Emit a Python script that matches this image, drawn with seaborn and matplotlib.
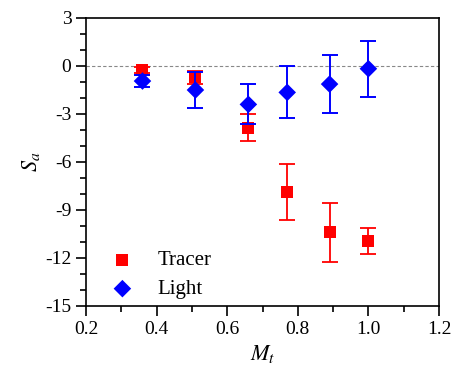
import matplotlib
matplotlib.use("Agg")
import matplotlib.pyplot as plt
import seaborn as sns
import pandas as pd
from matplotlib.ticker import MultipleLocator

mt = [0.36, 0.51, 0.66, 0.77, 0.89, 1.00]
tracer_sa = [-0.25, -0.7, -3.85, -7.9, -10.4, -10.95]
tracer_err = [0.2, 0.4, 0.85, 1.75, 1.85, 0.8]
light_sa = [-0.94, -1.5, -2.4, -1.65, -1.13, -0.17]
light_err = [0.35, 1.1, 1.25, 1.63, 1.8, 1.75]

sns.set_style("ticks")
plt.rcParams['font.family'] = ['Liberation Serif', 'DejaVu Serif']
plt.rcParams['mathtext.fontset'] = 'stix'
plt.rcParams['axes.unicode_minus'] = False
plt.rcParams['text.color'] = 'black'
plt.rcParams['axes.labelcolor'] = 'black'

fig = plt.figure(figsize=(4.54, 3.80), dpi=100)
ax = fig.add_axes([86/454, 1-306/380, (439-86)/454, (306-18)/380])

ax.axhline(0, color='#888888', lw=0.8, ls=(0, (3, 2)), zorder=1)

df_t = pd.DataFrame({"Mt": mt, "Sa": tracer_sa, "err": tracer_err})
df_l = pd.DataFrame({"Mt": mt, "Sa": light_sa, "err": light_err})

ax.errorbar(df_t["Mt"], df_t["Sa"], yerr=df_t["err"], fmt='none', ecolor='#ff0000',
            elinewidth=1.3, capsize=6, capthick=1.3, zorder=2)
sns.scatterplot(data=df_t, x="Mt", y="Sa", marker='s', color='#ff0000', s=75,
                edgecolor='none', ax=ax, label='Tracer', zorder=3)
ax.errorbar(df_l["Mt"], df_l["Sa"], yerr=df_l["err"], fmt='none', ecolor='#0000ff',
            elinewidth=1.4, capsize=6, capthick=1.4, zorder=4)
sns.scatterplot(data=df_l, x="Mt", y="Sa", marker='D', color='#0000ff', s=80,
                edgecolor='none', ax=ax, label='Light', zorder=5)

ax.set_xlim(0.2, 1.2)
ax.set_ylim(-15, 3)
ax.xaxis.set_major_locator(MultipleLocator(0.2))
ax.xaxis.set_minor_locator(MultipleLocator(0.1))
ax.yaxis.set_major_locator(MultipleLocator(3))
ax.yaxis.set_minor_locator(MultipleLocator(1))
ax.set_xticklabels([f"{v:.1f}" for v in ax.get_xticks()])
ax.tick_params(which='major', direction='out', length=7, width=1.2, labelsize=14,
               colors='black')
ax.tick_params(which='minor', direction='out', length=4, width=1.2, colors='black')
for s in ax.spines.values():
    s.set_linewidth(1.2)
    s.set_color('black')

ax.set_xlabel(r"$M_t$", fontsize=16, labelpad=4)
ax.set_ylabel(r"$S_a$", fontsize=16, labelpad=2)

leg = ax.legend(loc='lower left', frameon=False, fontsize=15, handlelength=1.0,
                handletextpad=1.2, labelspacing=0.45, borderaxespad=0.0,
                bbox_to_anchor=(0.05, -0.005))
for t in leg.get_texts():
    t.set_color('black')

fig.savefig("out.png", dpi=100)
